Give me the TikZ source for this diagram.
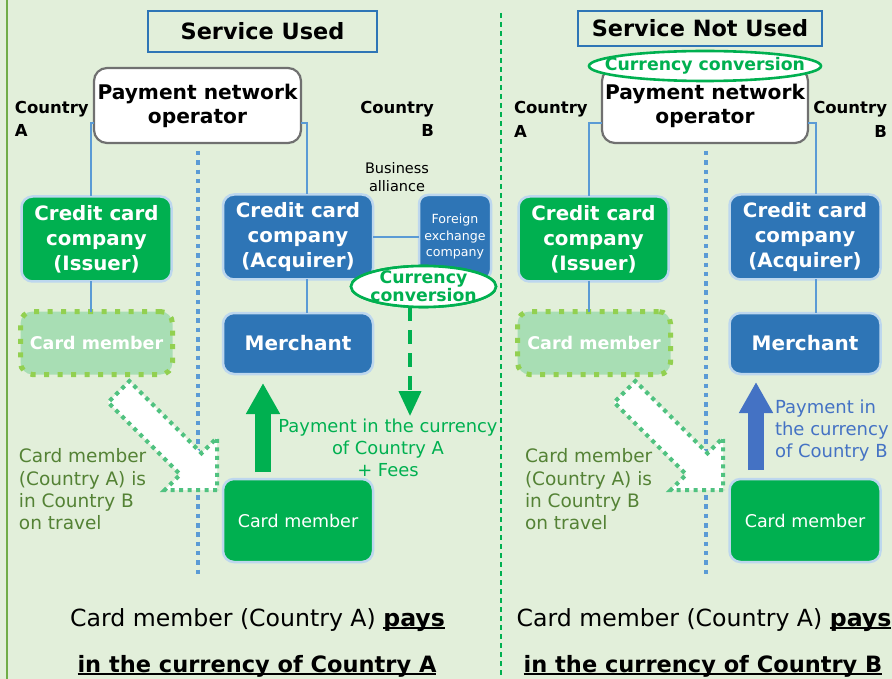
\documentclass[tikz,border=0pt]{standalone}
\usepackage{fontspec}
\setmainfont{DejaVu Sans}
\usetikzlibrary{arrows.meta,shapes.geometric}

\definecolor{bgGreen}{RGB}{226,239,218}
\definecolor{boxBlue}{RGB}{46,117,182}
\definecolor{boxGreen}{RGB}{0,176,80}
\definecolor{rimBlue}{RGB}{189,215,238}
\definecolor{lineBlue}{RGB}{91,155,213}
\definecolor{fadeFill}{RGB}{168,222,180}
\definecolor{fadeDot}{RGB}{146,208,80}
\definecolor{arrowDot}{RGB}{80,194,128}
\definecolor{oliveText}{RGB}{84,130,53}
\definecolor{payBlue}{RGB}{68,114,196}
\definecolor{frameGreen}{RGB}{112,173,71}
\definecolor{pnoGray}{RGB}{112,112,112}

\newcommand{\fsz}[2]{\fontsize{#1}{#2}\selectfont}
\newsavebox{\ulinebox}
\newcommand{\lineunder}[1]{\sbox{\ulinebox}{#1}\rlap{\rule[-2.8pt]{\wd\ulinebox}{1.8pt}}\usebox{\ulinebox}}

\tikzset{
  every node/.style={inner sep=0pt, outer sep=0pt},
  titlebox/.style={draw=boxBlue, line width=2pt, font=\bfseries\fsz{22.4}{26}},
  pnobox/.style={draw=pnoGray, fill=white, line width=2.2pt, rounded corners=13pt,
    align=center, font=\bfseries\fsz{20.2}{24}},
  orgbox/.style={draw=rimBlue, line width=2.5pt, rounded corners=11pt, text=white, align=center},
  bluebox/.style={orgbox, fill=boxBlue},
  greenbox/.style={orgbox, fill=boxGreen},
  creditfont/.style={font=\bfseries\fsz{19.8}{25}},
  fadebox/.style={fill=fadeFill, draw=fadeDot, line width=5pt, dash pattern=on 5pt off 8.5pt,
    rounded corners=12pt, text=white, font=\bfseries\fsz{17.5}{21}},
  countrytext/.style={font=\bfseries\fsz{16.5}{23.5}},
  link/.style={draw=lineBlue, line width=1.6pt},
  sepdot/.style={draw=lineBlue, line width=4pt, dash pattern=on 4.5pt off 4.8pt},
  divider/.style={draw=boxGreen, line width=1.3pt, dash pattern=on 5pt off 4pt},
  convring/.style={ellipse, draw=boxGreen, fill=white, line width=2.6pt},
  convtext/.style={text=boxGreen, align=center, font=\bfseries\fsz{17.3}{18}},
  travel/.style={fill=white, draw=arrowDot, line width=4pt, dash pattern=on 4pt off 4.5pt},
  traveltext/.style={text=oliveText, align=left, font=\fsz{18.5}{22.3}},
  bigarrow/.style={line width=16pt, -{Triangle[width=32pt,length=31pt]}},
  bottomtext/.style={font=\fsz{23.6}{26}},
  bottombold/.style={font=\bfseries\fsz{22.5}{26}},
}

\begin{document}
\begin{tikzpicture}[x=1pt,y=-1pt]
% canvas
\fill[bgGreen] (0,0) rectangle (892,679);
\useasboundingbox (0,0) rectangle (892,679);

% outer frame edge and the middle divider
\coordinate (frameTop) at (7,0);
\coordinate (frameBot) at (7,679);
\draw[frameGreen, line width=2.2pt] (frameTop) -- (frameBot);
\coordinate (divTop) at (501,13);
\coordinate (divBot) at (501,679);
\draw[divider] (divTop) -- (divBot);

% ================= left panel: service used =================
\node[titlebox, minimum width=229pt, minimum height=41pt] (ttlL) at (262.5,31.5) {Service Used};
\node[pnobox, minimum width=207pt, minimum height=75pt] (pnoL) at (197.5,105.5) {Payment network\\operator};
\node[countrytext, anchor=west, align=left] (cAL) at (15,119) {Country\\A};
\node[countrytext, anchor=east, align=right] (cBL) at (434,119) {Country\\B};

% border between the two countries
\coordinate (sepLtop) at (198,151);
\coordinate (sepLbot) at (198,577);
\draw[sepdot] (sepLtop) -- (sepLbot);

% the card member travelling from country A to country B
\begin{scope}[shift={(217,490)}, rotate=-45]
  \draw[travel] (0,0) -- (-37,37) -- (-37,15) -- (-139,15) -- (-139,-15)
    -- (-37,-15) -- (-37,-37) -- cycle;
\end{scope}

\node[greenbox, creditfont, minimum width=150pt, minimum height=85pt] (issL) at (96.5,239) {Credit card\\company\\(Issuer)};
\node[bluebox, creditfont, minimum width=150pt, minimum height=85pt] (acqL) at (298,237) {Credit card\\company\\(Acquirer)};
\node[bluebox, rounded corners=9pt, minimum width=72pt, minimum height=84pt,
      font=\fsz{12.6}{16.5}] (fxL) at (455,237) {Foreign\\exchange\\company};
\node[align=center, font=\fsz{14.5}{18}] (bizL) at (397,177) {Business\\alliance};
\node[fadebox, minimum width=152pt, minimum height=63pt] (fadeL) at (96.5,343) {Card member};
\node[bluebox, minimum width=150pt, minimum height=61pt, font=\bfseries\fsz{20}{24}] (merL) at (298,343.5) {Merchant};
\node[greenbox, minimum width=150pt, minimum height=83pt, font=\fsz{17.5}{21}] (cmL) at (298,520.5) {Card member};

% organisation links
\coordinate (jL1) at (91,123);
\coordinate (jL2) at (307,123);
\draw[link] (pnoL.west |- jL1) -- (jL1) -- (jL1 |- issL.north);
\draw[link] (pnoL.east |- jL2) -- (jL2) -- (jL2 |- acqL.north);
\draw[link] (issL.south -| jL1) -- (fadeL.north -| jL1);
\draw[link] (acqL.south -| jL2) -- (merL.north -| jL2);
\draw[link] (acqL.east) -- (fxL.west);

% conversion done by the foreign exchange company
\coordinate (fxTip) at (410,416);
\node[convring, minimum width=145pt, minimum height=41pt] (cvL) at (423.5,286.5) {};
\draw[boxGreen, line width=4pt, dash pattern=on 14pt off 9pt,
      -{Triangle[width=22pt,length=25pt]}] (cvL.south -| fxTip) -- (fxTip);
\node[convring, minimum width=145pt, minimum height=41pt] at (cvL) {};
\node[convtext] (cvLt) at (cvL) {Currency\\conversion};

% payment from the card member to the merchant
\coordinate (payLfrom) at (263,472);
\coordinate (payLto) at (263,383);
\draw[bigarrow, boxGreen] (payLfrom) -- (payLto);
\node[text=boxGreen, align=center, font=\fsz{17.9}{22}] (payL) at (388,448) {Payment in the currency\\of Country A\\+ Fees};
\node[traveltext, anchor=west] (travL) at (19,489.5) {Card member\\(Country A) is\\in Country B\\on travel};

\node[bottomtext, anchor=base] (sumL1) at (257.5,626) {Card member (Country A) \textbf{\lineunder{pays}}};
\node[bottombold, anchor=base] (sumL2) at (257,672) {\lineunder{in the currency of Country A}};

% ================= right panel: service not used =================
\node[titlebox, minimum width=244pt, minimum height=35pt] (ttlR) at (700,28.5) {Service Not Used};
\node[pnobox, minimum width=206pt, minimum height=75pt] (pnoR) at (705,105.5) {Payment network\\operator};
\node[convring, minimum width=232pt, minimum height=30pt] (cvR) at (705,66) {};
\node[convtext] (cvRt) at (cvR) {Currency conversion};
\node[countrytext, anchor=west, align=left] (cAR) at (514,119.5) {Country\\A};
\node[countrytext, anchor=east, align=right] (cBR) at (887,119.5) {Country\\B};

\coordinate (sepRtop) at (706,151);
\coordinate (sepRbot) at (706,577);
\draw[sepdot] (sepRtop) -- (sepRbot);

\begin{scope}[shift={(723,490)}, rotate=-45]
  \draw[travel] (0,0) -- (-37,37) -- (-37,15) -- (-139,15) -- (-139,-15)
    -- (-37,-15) -- (-37,-37) -- cycle;
\end{scope}

\node[greenbox, creditfont, minimum width=150pt, minimum height=85pt] (issR) at (593.5,239) {Credit card\\company\\(Issuer)};
\node[bluebox, creditfont, minimum width=151pt, minimum height=85pt] (acqR) at (805,237) {Credit card\\company\\(Acquirer)};
\node[fadebox, minimum width=153pt, minimum height=63pt] (fadeR) at (594,343) {Card member};
\node[bluebox, minimum width=151pt, minimum height=61pt, font=\bfseries\fsz{20}{24}] (merR) at (805,343.5) {Merchant};
\node[greenbox, minimum width=151pt, minimum height=83pt, font=\fsz{17.5}{21}] (cmR) at (805,520.5) {Card member};

\coordinate (jR1) at (589,123);
\coordinate (jR2) at (816,123);
\draw[link] (pnoR.west |- jR1) -- (jR1) -- (jR1 |- issR.north);
\draw[link] (pnoR.east |- jR2) -- (jR2) -- (jR2 |- acqR.north);
\draw[link] (issR.south -| jR1) -- (fadeR.north -| jR1);
\draw[link] (acqR.south -| jR2) -- (merR.north -| jR2);

\coordinate (payRfrom) at (756,470);
\coordinate (payRto) at (756,382);
\draw[bigarrow, payBlue] (payRfrom) -- (payRto);
\node[text=payBlue, anchor=west, align=left, font=\fsz{18}{22}] (payR) at (775,430.5) {Payment in\\the currency\\of Country B};
\node[traveltext, anchor=west] (travR) at (525,489.5) {Card member\\(Country A) is\\in Country B\\on travel};

\node[bottomtext, anchor=base] (sumR1) at (704,626) {Card member (Country A) \textbf{\lineunder{pays}}};
\node[bottombold, anchor=base] (sumR2) at (703,672) {\lineunder{in the currency of Country B}};
\end{tikzpicture}
\end{document}
